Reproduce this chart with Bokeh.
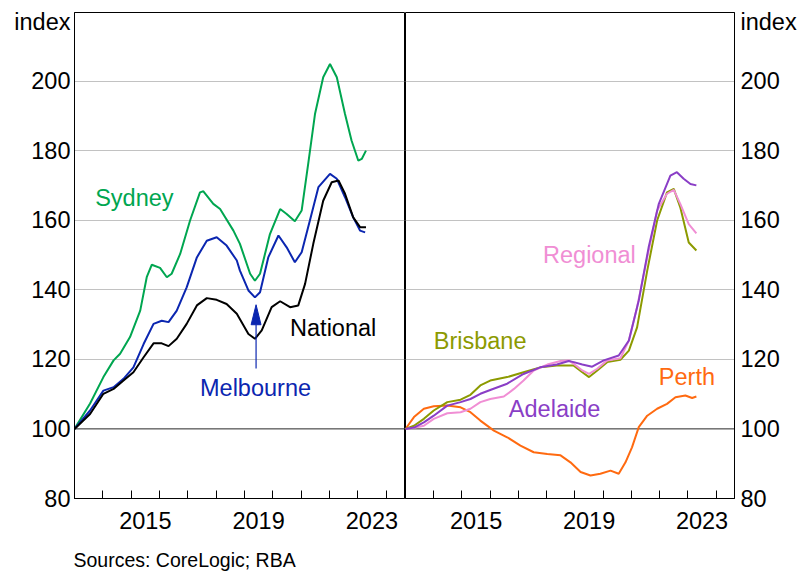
from bokeh.plotting import figure
from bokeh.models import (FixedTicker, Label, Span, Range1d, CustomJSTickFormatter, Title)
from bokeh.layouts import row
from bokeh.embed import file_html
from bokeh.resources import INLINE

# ---------------- data (index, January 2013 = 100) ----------------
syd_t = [2013.0, 2013.55, 2014.02, 2014.38, 2014.61, 2014.96, 2015.32, 2015.55, 2015.73, 2016.02,
         2016.26, 2016.43, 2016.73, 2017.08, 2017.43, 2017.55, 2017.9, 2018.14, 2018.61, 2018.84,
         2019.2, 2019.37, 2019.55, 2019.9, 2020.26, 2020.49, 2020.78, 2021.02, 2021.25, 2021.49,
         2021.78, 2022.02, 2022.26, 2022.55, 2022.78, 2023.02, 2023.14, 2023.29]
syd_v = [100, 107.3, 114.9, 119.7, 121.6, 126.4, 134, 143.6, 147.2, 146.3,
         143.6, 144.6, 150.3, 159.9, 168, 168.3, 164.7, 163.2, 157, 153.2,
         144.6, 142.6, 144.6, 156, 163.2, 161.8, 159.7, 162.8, 176.2, 190.5,
         201.1, 204.9, 201.1, 190.5, 182.9, 177.1, 177.6, 180]

mel_t = [2013.0, 2013.55, 2014.02, 2014.38, 2014.73, 2015.08, 2015.44, 2015.79, 2016.08, 2016.32,
         2016.61, 2016.96, 2017.32, 2017.67, 2018.02, 2018.37, 2018.73, 2018.84, 2019.14, 2019.37,
         2019.55, 2019.84, 2020.2, 2020.49, 2020.78, 2021.02, 2021.31, 2021.61, 2022.02, 2022.26,
         2022.55, 2022.84, 2023.08, 2023.26]
mel_v = [100, 105.3, 111, 112, 114.4, 117.7, 124.4, 130.2, 131.1, 130.7,
         134, 140.7, 149.3, 154.1, 155.1, 152.7, 148.4, 145.5, 139.8, 137.8,
         139.3, 149.3, 155.6, 152.2, 147.9, 150.8, 159.9, 169.5, 173.3, 171.9,
         166.6, 160.8, 157, 156.5]

nat_t = [2013.0, 2013.55, 2014.02, 2014.38, 2014.73, 2015.08, 2015.44, 2015.79, 2016.08, 2016.32,
         2016.61, 2016.96, 2017.32, 2017.67, 2018.02, 2018.37, 2018.73, 2019.14, 2019.37, 2019.61,
         2019.96, 2020.26, 2020.61, 2020.9, 2021.14, 2021.43, 2021.78, 2022.08, 2022.32, 2022.55,
         2022.84, 2023.08, 2023.29]
nat_v = [100, 104.3, 110.1, 111.5, 113.9, 116.3, 120.6, 124.6, 124.6, 123.8,
         125.9, 130.2, 135.5, 137.6, 137.1, 135.9, 133.1, 127.3, 125.9, 128.3,
         135, 136.7, 135, 135.5, 141.7, 153.2, 165.6, 170.9, 171.4, 167.6,
         160.8, 158, 158]

bri_t = [2013.0, 2013.3, 2013.65, 2014.0, 2014.48, 2014.95, 2015.3, 2015.65, 2016.0, 2016.6,
         2017.18, 2017.77, 2018.36, 2018.96, 2019.26, 2019.5, 2019.79, 2020.14, 2020.61, 2020.91,
         2021.2, 2021.56, 2021.91, 2022.26, 2022.5, 2022.73, 2023.03, 2023.3]
bri_v = [100, 100.9, 102.9, 105.3, 107.7, 108.4, 109.8, 112.5, 113.9, 114.9,
         116.3, 117.7, 118.2, 118.2, 116.3, 114.9, 116.8, 119.2, 119.9, 122.5,
         129.2, 145.5, 159.9, 168, 169, 163.7, 153.6, 151.3]

ade_t = [2013.0, 2013.3, 2013.65, 2014.0, 2014.48, 2014.95, 2015.3, 2015.65, 2016.0, 2016.6,
         2017.18, 2017.77, 2018.36, 2018.78, 2018.96, 2019.26, 2019.61, 2020.02, 2020.55, 2020.91,
         2021.26, 2021.61, 2021.97, 2022.38, 2022.61, 2022.85, 2023.09, 2023.3]
ade_v = [100, 100.4, 101.9, 103.8, 106.7, 107.7, 108.6, 110.1, 111.2, 113,
         115.8, 117.7, 118.5, 119.5, 119.2, 118.5, 117.9, 119.7, 121.1, 125.4,
         136.9, 152.2, 164.7, 172.8, 173.8, 171.9, 170.4, 170]

reg_t = [2013.0, 2013.3, 2013.65, 2014.0, 2014.48, 2014.95, 2015.3, 2015.65, 2016.0, 2016.48,
         2016.84, 2017.18, 2017.54, 2018.02, 2018.49, 2018.78, 2018.96, 2019.26, 2019.5, 2019.79,
         2020.14, 2020.61, 2020.91, 2021.2, 2021.56, 2021.91, 2022.26, 2022.5, 2022.73, 2023.03,
         2023.3]
reg_v = [100, 100.3, 100.9, 102.9, 104.5, 104.8, 105.8, 107.7, 108.6, 109.3,
         111.5, 113.9, 116.8, 118.5, 119.5, 119.7, 118.7, 116.8, 115.8, 117.3,
         119.7, 120.3, 125.4, 135, 149.3, 162.8, 167.6, 168.7, 164.7, 158.9,
         156.2]

per_t = [2013.0, 2013.3, 2013.65, 2014.0, 2014.48, 2014.95, 2015.3, 2015.65, 2016.13, 2016.6,
         2017.07, 2017.54, 2018.02, 2018.49, 2018.84, 2019.2, 2019.55, 2019.9, 2020.26, 2020.55,
         2020.79, 2021.02, 2021.26, 2021.56, 2021.91, 2022.26, 2022.56, 2022.91, 2023.15, 2023.3]
per_v = [100, 103.4, 105.8, 106.5, 106.7, 106.2, 104.8, 102.4, 99.5, 97.6,
         95.2, 93.3, 92.8, 92.4, 90.4, 87.6, 86.6, 87.1, 88, 87.1,
         90.4, 94.7, 100.5, 103.8, 105.8, 107.2, 109.1, 109.6, 108.9, 109.3]

y_ticks = [80, 100, 120, 140, 160, 180, 200]
unit_pos = 217.0                          # where the "index" unit label sits
year_ticks = list(range(2013, 2025))
year_labels = [2015.5, 2019.5, 2023.5]   # labels centred on the year

# ---------------- styling ----------------
FONT = "Liberation Sans"
FS = "23.5px"
C_SYD = "#00a650"
C_MEL = "#0b26b0"
C_NAT = "#000000"
C_BRI = "#8c9a00"
C_ADE = "#8a3ec6"
C_REG = "#f08ed4"
C_PER = "#ff6a10"

X0, X1 = 2013.0, 2024.65
Y0, Y1 = 80, 219.7
H = 575


def base_fig(width, left, right, yloc):
    p = figure(width=width, height=H, x_range=Range1d(X0, X1), y_range=Range1d(Y0, Y1),
               output_backend="svg", toolbar_location=None, y_axis_location=yloc,
               min_border_left=left, min_border_right=right, min_border_top=12,
               min_border_bottom=77)
    p.outline_line_color = "black"
    p.outline_line_width = 1
    p.background_fill_color = "white"
    p.border_fill_color = "white"
    p.xgrid.visible = False
    p.ygrid.ticker = FixedTicker(ticks=y_ticks)
    p.ygrid.grid_line_color = "#c2c2c2"
    p.ygrid.grid_line_width = 1

    xa = p.xaxis[0]
    xa.ticker = FixedTicker(ticks=year_labels, minor_ticks=year_ticks)
    xa.formatter = CustomJSTickFormatter(code="return String(Math.floor(tick));")
    xa.major_tick_line_color = None
    xa.minor_tick_in = 8
    xa.minor_tick_out = 0
    xa.minor_tick_line_color = "black"
    xa.minor_tick_line_width = 1
    xa.axis_line_color = "black"
    xa.major_label_standoff = 7
    xa.major_label_text_font = FONT
    xa.major_label_text_font_size = FS
    xa.major_label_text_color = "black"

    ya = p.yaxis[0]
    ya.ticker = FixedTicker(ticks=y_ticks + [unit_pos])
    ya.formatter = CustomJSTickFormatter(
        code="return tick > 210 ? 'index' : String(Math.round(tick));")
    ya.major_tick_in = 0
    ya.major_tick_out = 0
    ya.minor_tick_line_color = None
    ya.axis_line_color = "black"
    ya.major_label_text_font = FONT
    ya.major_label_text_font_size = FS
    ya.major_label_text_color = "black"

    p.add_layout(Span(location=100, dimension="width", line_color="#404040",
                      line_width=1, level="underlay"))
    return p


def lab(p, x, y, text, color):
    p.add_layout(Label(x=x, y=y, text=text, text_color=color, text_font=FONT,
                       text_font_size=FS, text_align="left",
                       text_baseline="alphabetic"))


# ---------------- left panel ----------------
p1 = base_fig(405, 74, 1, "left")
p1.yaxis[0].major_label_standoff = 4
p1.line(syd_t, syd_v, line_color=C_SYD, line_width=2)
p1.line(mel_t, mel_v, line_color=C_MEL, line_width=2)
p1.line(nat_t, nat_v, line_color=C_NAT, line_width=2)

# arrow from "Melbourne" label to the 2019 trough
ax, ay0, ay1 = 2019.41, 117.4, 135.7
head_len, head_half = 5.75, 0.175
p1.line([ax, ax], [ay0, ay1 - head_len], line_color=C_MEL, line_width=1.2)
p1.patch([ax - head_half, ax, ax + head_half], [ay1 - head_len, ay1, ay1 - head_len],
         fill_color=C_MEL, line_color=C_MEL, line_width=1)

lab(p1, 2013.73, 166.5, "Sydney", C_SYD)
lab(p1, 2017.43, 111.9, "Melbourne", C_MEL)
lab(p1, 2020.61, 129.1, "National", C_NAT)

# small blank spacer between the axis labels and the source note
p1.add_layout(Title(text=" ", text_font=FONT, text_font_size="10px", standoff=0), "below")
p1.add_layout(Title(text="Sources: CoreLogic; RBA", align="left", offset=-1,
                    text_font=FONT, text_font_size="19.5px", text_font_style="normal",
                    text_color="black", standoff=4), "below")

# ---------------- right panel ----------------
p2 = base_fig(394, 0, 64, "right")
p2.yaxis[0].major_label_standoff = 6
p2.line(per_t, per_v, line_color=C_PER, line_width=2)
p2.line(bri_t, bri_v, line_color=C_BRI, line_width=2)
p2.line(reg_t, reg_v, line_color=C_REG, line_width=2)
p2.line(ade_t, ade_v, line_color=C_ADE, line_width=2)

lab(p2, 2017.87, 150.1, "Regional", C_REG)
lab(p2, 2014.0, 125.3, "Brisbane", C_BRI)
lab(p2, 2016.66, 105.7, "Adelaide", C_ADE)
lab(p2, 2021.97, 114.8, "Perth", C_PER)

layout = row(p1, p2)
open("out.html", "w").write(file_html(layout, INLINE))
